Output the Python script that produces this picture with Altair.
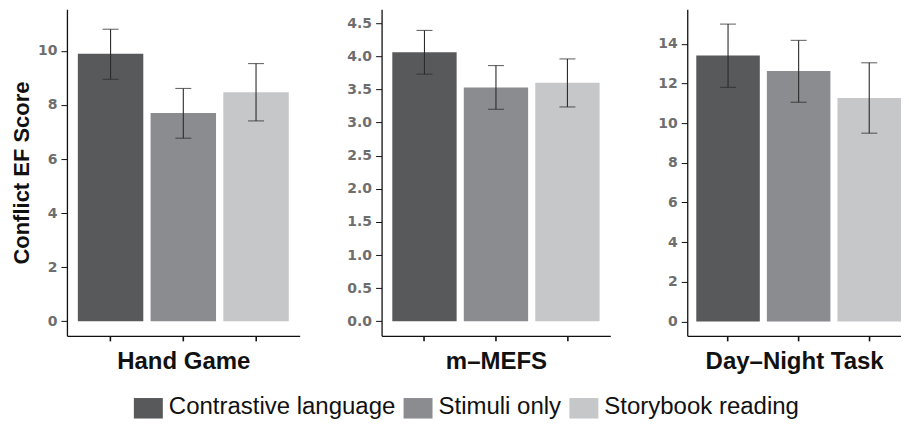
import altair as alt
import pandas as pd

conditions = ["Contrastive language", "Stimuli only", "Storybook reading"]
colors = ["#58595b", "#8b8c8f", "#c6c7c9"]

tasks = ["Hand Game", "m\u2013MEFS", "Day\u2013Night Task"]

hand_mean = [9.89, 7.70, 8.47]
hand_lo = [8.95, 6.77, 7.41]
hand_hi = [10.80, 8.61, 9.53]

mefs_mean = [4.06, 3.53, 3.60]
mefs_lo = [3.73, 3.20, 3.235]
mefs_hi = [4.39, 3.86, 3.96]

dn_mean = [13.41, 12.62, 11.26]
dn_lo = [11.80, 11.05, 9.49]
dn_hi = [14.99, 14.17, 13.04]

hand_ticks = [0, 2, 4, 6, 8, 10]
mefs_ticks = [0.0, 0.5, 1.0, 1.5, 2.0, 2.5, 3.0, 3.5, 4.0, 4.5]
dn_ticks = [0, 2, 4, 6, 8, 10, 12, 14]

y_title = "Conflict EF Score"

# legend swatch: 29px wide, top part of a square (bottom cropped like the reference)
legend = alt.Legend(
    orient="none", legendX=67, legendY=383, direction="horizontal", title=None,
    symbolType="M-1,-0.586L1,-0.586L1,0.83L-1,0.83Z", symbolSize=841,
    symbolStrokeWidth=0, symbolOpacity=1,
    labelFontSize=24, labelFont="Liberation Sans", labelColor="#111111",
    labelOffset=6, columnPadding=8, padding=0, labelLimit=400,
)

ERR = "#2b2b2b"


def panel(task, means, lo, hi, domain, ticks, fmt, width, ytitle,
          pad_outer=0.15, align=0.5):
    df = pd.DataFrame({"cond": conditions, "mean": means, "lo": lo, "hi": hi})
    base = alt.Chart(df)
    xscale = alt.Scale(paddingInner=0.1, paddingOuter=pad_outer, align=align)
    xaxis = alt.Axis(labels=False, title=task, tickSize=5, tickWidth=1.6,
                     titleFontSize=24, titleFont="Liberation Sans",
                     titleFontWeight="bold", titleColor="#111111",
                     titlePadding=8)
    yscale = alt.Scale(domain=domain, nice=False, zero=False)
    yaxis = alt.Axis(values=ticks, format=fmt, title=ytitle, tickSize=6,
                     labelPadding=4, grid=False, labelOverlap=False)

    def X():
        return alt.X("cond:N", sort=conditions, scale=xscale, axis=xaxis)

    def Y(field):
        return alt.Y(field, scale=yscale, axis=yaxis, title=ytitle)

    bars = base.mark_bar().encode(
        x=X(),
        y=Y("mean:Q"),
        y2=alt.datum(0),
        color=alt.Color("cond:N", sort=conditions,
                        scale=alt.Scale(domain=conditions, range=colors),
                        legend=legend),
    )
    rule = base.mark_rule(color=ERR, strokeWidth=1.1).encode(
        x=X(), y=Y("lo:Q"), y2="hi:Q",
    )
    cap_lo = base.mark_tick(color=ERR, size=16, thickness=1.1).encode(
        x=X(), y=Y("lo:Q"),
    )
    cap_hi = base.mark_tick(color=ERR, size=16, thickness=1.1).encode(
        x=X(), y=Y("hi:Q"),
    )
    return alt.layer(bars, rule, cap_lo, cap_hi).properties(width=width, height=327)


p1 = panel(tasks[0], hand_mean, hand_lo, hand_hi, [-0.54, 11.54], hand_ticks, "d", 233, y_title)
p2 = panel(tasks[1], mefs_mean, mefs_lo, mefs_hi, [-0.22, 4.71], mefs_ticks, ".1f", 229, None)
p3 = panel(tasks[2], dn_mean, dn_lo, dn_hi, [-0.73, 15.74], dn_ticks, "d", 214, None,
           pad_outer=0.064, align=1.0)

chart = (
    alt.hconcat(p1, p2, p3, spacing=47)
    .resolve_scale(x="independent", y="independent", color="shared")
    .properties(padding={"left": 2, "top": 1, "right": 0, "bottom": 0})
    .configure_view(stroke=None)
    .configure_axis(
        domainColor="#111111", domainWidth=1.3, tickColor="#111111",
        labelFont="DejaVu Sans", labelFontWeight="bold", labelFontSize=14,
        labelColor="#6e6e6e",
        titleFont="Liberation Sans", titleFontWeight="bold", titleFontSize=22,
        titleColor="#111111", titlePadding=4,
    )
    .configure_axisX(titleFontSize=24, titlePadding=8)
)

chart.save("out.html", embed_options={"renderer": "svg", "actions": False})
